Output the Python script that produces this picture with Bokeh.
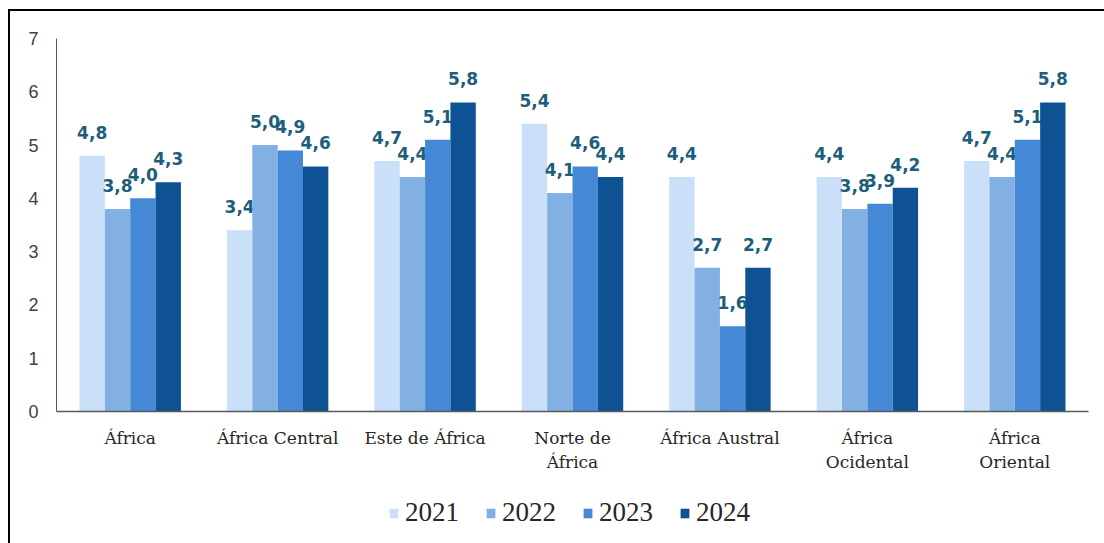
from bokeh.plotting import figure
from bokeh.models import ColumnDataSource, FactorRange, Legend, LegendItem
from bokeh.layouts import column
from bokeh.transform import dodge
from bokeh.core.properties import value
from bokeh.embed import file_html
from bokeh.resources import INLINE

categories = ["África", "África Central", "Este de África", "Norte de\nÁfrica",
              "África Austral", "África\nOcidental", "África\nOriental"]
years = ["2021", "2022", "2023", "2024"]
v2021 = [4.8, 3.4, 4.7, 5.4, 4.4, 4.4, 4.7]
v2022 = [3.8, 5.0, 4.4, 4.1, 2.7, 3.8, 4.4]
v2023 = [4.0, 4.9, 5.1, 4.6, 1.6, 3.9, 5.1]
v2024 = [4.3, 4.6, 5.8, 4.4, 2.7, 4.2, 5.8]
series = [v2021, v2022, v2023, v2024]
colors = ["#C9E0F8", "#83B0E3", "#4589D6", "#0F5294"]
offsets = [-0.258, -0.086, 0.086, 0.258]
bar_w = 0.172

p = figure(x_range=FactorRange(*categories, range_padding=0), y_range=(0, 7),
           width=1094, height=482, output_backend="svg", toolbar_location=None,
           min_border_left=46, min_border_right=16, min_border_top=27, min_border_bottom=82)
p.outline_line_color = None
p.xgrid.grid_line_color = None
p.ygrid.grid_line_color = None
p.background_fill_color = "white"
p.border_fill_color = "white"

sources = []
for yr, vals, c, off in zip(years, series, colors, offsets):
    src = ColumnDataSource(dict(cat=categories, val=vals,
                                lab=[f"{v:.1f}".replace(".", ",") for v in vals]))
    sources.append(src)
    p.vbar(x=dodge("cat", off, range=p.x_range), top="val", width=bar_w, source=src,
           fill_color=c, line_color=None)
    p.text(x=dodge("cat", off, range=p.x_range), y="val", text="lab", source=src,
           text_align="center", text_baseline="bottom", y_offset=-17,
           text_font=value("DejaVu Sans"), text_font_style="bold",
           text_font_size="17px", text_color="#1D5E7A")

p.yaxis.ticker = [0, 1, 2, 3, 4, 5, 6, 7]
p.yaxis.major_tick_line_color = None
p.yaxis.minor_tick_line_color = None
p.yaxis.axis_line_color = "#595959"
p.yaxis.major_label_text_font = "Liberation Sans"
p.yaxis.major_label_text_font_size = "18px"
p.yaxis.major_label_text_color = "#404040"
p.yaxis.major_label_standoff = 12

p.xaxis.major_tick_line_color = None
p.xaxis.axis_line_color = "#595959"
p.xaxis.axis_line_width = 1.5
p.xaxis.major_label_text_font = "DejaVu Serif"
p.xaxis.major_label_text_font_size = "17px"
p.xaxis.major_label_text_color = "#262626"
p.xaxis.major_label_standoff = 10

# legend strip (same bars, drawn out of its visible y range; only the legend shows)
lf = figure(width=1094, height=50, output_backend="svg", toolbar_location=None,
            x_axis_type=None, y_axis_type=None,
            x_range=FactorRange(*categories, range_padding=0), y_range=(100, 101),
            min_border=0)
lf.outline_line_color = None
lf.xgrid.grid_line_color = None
lf.ygrid.grid_line_color = None
items = []
for yr, c, off, src in zip(years, colors, offsets, sources):
    r = lf.vbar(x=dodge("cat", off, range=lf.x_range), top="val", width=bar_w,
                source=src, fill_color=c, line_color=None)
    items.append(LegendItem(label=yr, renderers=[r]))
legend = Legend(items=items, orientation="horizontal", location=(332, 15),
                glyph_width=11, glyph_height=12, label_standoff=6, spacing=26,
                label_text_font="Liberation Serif", label_text_font_size="27px",
                label_text_color="#262626", border_line_color=None,
                background_fill_alpha=0, margin=0, padding=0)
lf.add_layout(legend, "center")

layout = column(p, lf, spacing=0)
layout.styles = {"border-left": "2px solid black", "border-top": "2px solid black",
                 "margin-left": "8px", "margin-top": "9px", "background": "white"}

open("out.html", "w").write(file_html(layout, INLINE))
